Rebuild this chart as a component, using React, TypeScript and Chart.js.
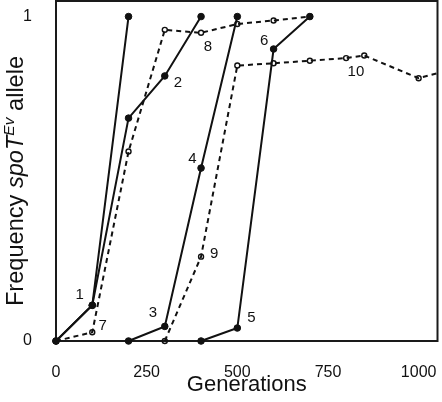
import React, { useEffect, useRef } from "react";
import { Chart, registerables } from "chart.js";
Chart.register(...registerables);

const FONT = "'Liberation Sans', Arial, Helvetica, sans-serif";
const INK = "#111111";

// Axis ticks
const xTicks = [0, 250, 500, 750, 1000];
const yTicks = [0, 1];

// Solid lines (filled points)
const gens1 = [0, 100, 200];
const freq1 = [0, 0.11, 1];
const gens2 = [0, 100, 200, 300, 400];
const freq2 = [0, 0.11, 0.687, 0.817, 1];
const gens34 = [200, 300, 400, 500];
const freq34 = [0, 0.045, 0.533, 1];
const gens56 = [400, 500, 600, 700];
const freq56 = [0, 0.04, 0.9, 1];

// Dashed lines (open points)
const gens78 = [0, 100, 200, 300, 400, 500, 600, 700];
const freq78 = [0, 0.027, 0.584, 0.959, 0.95, 0.977, 0.988, 1];
const gens910 = [300, 400, 500, 600, 700, 800, 850, 1000, 1100];
const freq910 = [0, 0.26, 0.849, 0.856, 0.864, 0.872, 0.88, 0.81, 0.84];

// Population number annotations
const labelTexts = ["1", "2", "3", "4", "5", "6", "7", "8", "9", "10"];
const labelGens = [65, 336, 267, 376, 539, 574, 129, 419, 436, 827];
const labelFreqs = [0.143, 0.797, 0.086, 0.561, 0.07, 0.925, 0.048, 0.908, 0.268, 0.831];

const toXY = (xs: number[], ys: number[]) => xs.map((x, i) => ({ x, y: ys[i] }));

const solid = (label: string, xs: number[], ys: number[]) => ({
  label,
  data: toXY(xs, ys),
  borderColor: INK,
  borderWidth: 2,
  pointRadius: 3.3,
  pointBorderWidth: 1,
  pointBackgroundColor: INK,
  pointBorderColor: INK,
  fill: false,
  tension: 0,
  clip: 10,
});

const dashed = (label: string, xs: number[], ys: number[], clip: any) => ({
  label,
  data: toXY(xs, ys),
  borderColor: INK,
  borderWidth: 2,
  borderDash: [5, 4],
  pointRadius: 2.5,
  pointBorderWidth: 1.4,
  pointBackgroundColor: "rgba(0,0,0,0)",
  pointBorderColor: INK,
  fill: false,
  tension: 0,
  clip,
});

const framePlugin = {
  id: "frame",
  beforeDatasetsDraw(chart: any) {
    const { ctx, chartArea: a } = chart;
    ctx.save();
    ctx.strokeStyle = "#1a1a1a";
    ctx.lineWidth = 2;
    ctx.strokeRect(a.left, a.top, a.right - a.left, a.bottom - a.top);
    ctx.restore();
  },
};

const annotationPlugin = {
  id: "popLabels",
  afterDatasetsDraw(chart: any) {
    const { ctx, scales } = chart;
    ctx.save();
    ctx.fillStyle = INK;
    ctx.font = `15px ${FONT}`;
    ctx.textAlign = "center";
    ctx.textBaseline = "middle";
    labelTexts.forEach((t, i) => {
      ctx.fillText(t, scales.x.getPixelForValue(labelGens[i]), scales.y.getPixelForValue(labelFreqs[i]));
    });
    ctx.restore();
  },
};

const yTitlePlugin = {
  id: "yTitle",
  afterDraw(chart: any) {
    const { ctx } = chart;
    const big = 23.6;
    const small = 15.5;
    const parts = [
      { t: "Frequency ", f: `${big}px ${FONT}`, dy: 0 },
      { t: "spoT", f: `italic ${big}px ${FONT}`, dy: 0 },
      { t: "Ev", f: `italic ${small}px ${FONT}`, dy: -9 },
      { t: " allele", f: `${big}px ${FONT}`, dy: 0 },
    ];
    ctx.save();
    let total = 0;
    parts.forEach((p) => {
      ctx.font = p.f;
      total += ctx.measureText(p.t).width;
    });
    const centerY = 181;
    ctx.translate(23, centerY + total / 2);
    ctx.rotate(-Math.PI / 2);
    ctx.fillStyle = INK;
    ctx.textBaseline = "alphabetic";
    ctx.textAlign = "left";
    let x = 0;
    parts.forEach((p) => {
      ctx.font = p.f;
      ctx.fillText(p.t, x, p.dy);
      x += ctx.measureText(p.t).width;
    });
    ctx.restore();
  },
};

const zeroPad = (s: any) => {
  s.paddingLeft = 0;
  s.paddingRight = 0;
  s.paddingTop = 0;
  s.paddingBottom = 0;
};

export default function App() {
  const ref = useRef<HTMLCanvasElement | null>(null);
  useEffect(() => {
    if (!ref.current) return;
    const chart = new Chart(ref.current, {
      type: "line",
      data: {
        datasets: [
          solid("1", gens1, freq1),
          solid("2", gens2, freq2),
          solid("3-4", gens34, freq34),
          solid("5-6", gens56, freq56),
          dashed("7-8", gens78, freq78, 10),
          dashed("9-10", gens910, freq910, { left: 10, top: 10, bottom: 10, right: 0 }),
        ] as any,
      },
      options: {
        responsive: false,
        animation: false,
        devicePixelRatio: 1,
        layout: { autoPadding: false, padding: { top: 1, right: 4.5, left: 0, bottom: 0 } },
        plugins: { legend: { display: false }, tooltip: { enabled: false } },
        scales: {
          x: {
            type: "linear",
            min: 0,
            max: 1052,
            grid: { display: false },
            border: { display: false },
            afterBuildTicks: (s: any) => {
              s.ticks = xTicks.map((v) => ({ value: v }));
            },
            afterFit: (s: any) => {
              s.height = 61;
              zeroPad(s);
            },
            ticks: {
              font: { family: FONT, size: 16 },
              color: INK,
              padding: 14,
              maxRotation: 0,
              autoSkip: false,
              callback: (v: any) => String(v),
            },
            title: {
              display: true,
              text: "Generations",
              font: { family: FONT, size: 22 },
              color: INK,
              padding: { top: 0, bottom: 4 },
            },
          },
          y: {
            type: "linear",
            min: 0,
            max: 1.048,
            grid: { display: false },
            border: { display: false },
            afterBuildTicks: (s: any) => {
              s.ticks = yTicks.map((v) => ({ value: v }));
            },
            afterFit: (s: any) => {
              s.width = 56;
              zeroPad(s);
            },
            ticks: {
              font: { family: FONT, size: 16 },
              color: INK,
              padding: 16,
              callback: (v: any) => String(v),
            },
          },
        },
      },
      plugins: [framePlugin, annotationPlugin, yTitlePlugin],
    });
    return () => chart.destroy();
  }, []);
  return (
    <div style={{ position: "fixed", left: 0, top: 0, width: 442, height: 402, background: "#fff" }}>
      <canvas ref={ref} width={442} height={402} style={{ display: "block" }} />
    </div>
  );
}
